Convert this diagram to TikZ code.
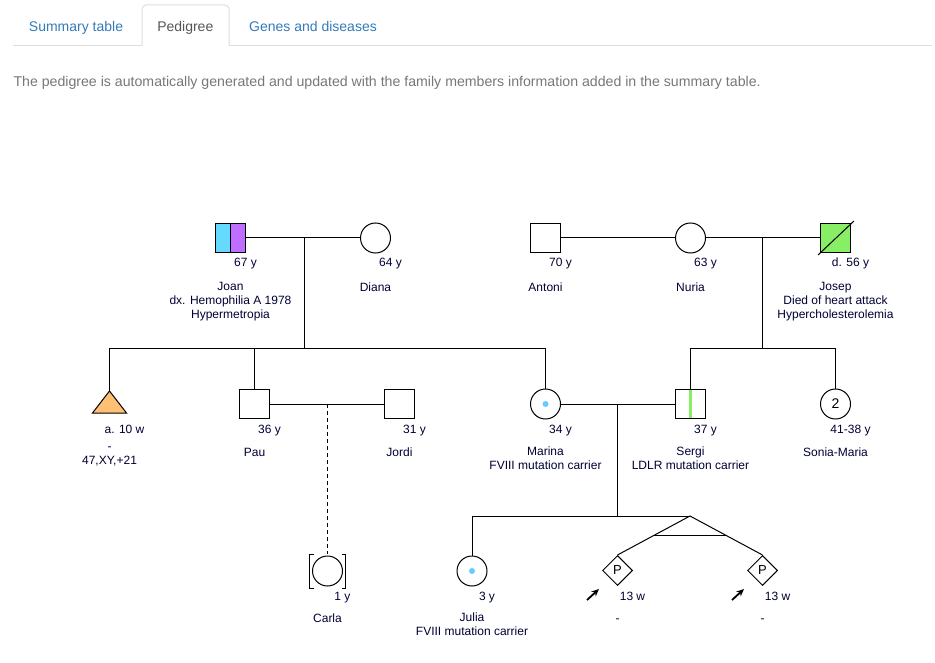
\documentclass[tikz,border=0pt]{standalone}
\usepackage{fontspec}
\setmainfont{Liberation Sans}
\usetikzlibrary{arrows.meta}
\usetikzlibrary{shapes.geometric}
\usetikzlibrary{calc}

\definecolor{tabblue}{HTML}{337AB7}
\definecolor{tabgray}{HTML}{555555}
\definecolor{tabborder}{HTML}{DDDDDD}
\definecolor{introgray}{HTML}{777777}
\definecolor{pedtext}{HTML}{000033}
\definecolor{hemocyan}{HTML}{66D9FF}
\definecolor{hyperpurple}{HTML}{BF6FFF}
\definecolor{cholgreen}{HTML}{88EE66}
\definecolor{trisomyorange}{HTML}{FFC076}
\definecolor{carrierblue}{HTML}{66CCFF}

\tikzset{
  male/.style={draw, rectangle, minimum width=30pt, minimum height=29pt, inner sep=0pt},
  female/.style={draw, circle, minimum size=30pt, inner sep=0pt},
  unknownsex/.style={draw, diamond, aspect=1, minimum size=30pt, inner sep=0pt, font=\fontsize{13}{14}\selectfont},
  agelabel/.style={anchor=base, inner sep=0pt, text=pedtext, font=\fontsize{12}{14}\selectfont},
  infolabel/.style={anchor=north, inner sep=0pt, align=center, text=pedtext, font=\fontsize{12}{14}\selectfont, execute at begin node=\strut},
  tablabel/.style={anchor=base, inner sep=0pt, font=\fontsize{14}{20}\selectfont},
  proband/.style={-{Stealth[length=7.5pt,width=6.5pt]}, line width=1.8pt},
}

\begin{document}
\begin{tikzpicture}[x=1pt, y=-1pt, line width=1pt]
	\useasboundingbox (0,0) rectangle (935,663);
	
	% tabs
	\draw[tabborder] (13,46) -- (142,46);
	\draw[tabborder] (229,46) -- (932,46);
	\draw[tabborder, rounded corners=4pt] (142,46) -- (142,5) -- (229,5) -- (229,46);
	\node[tablabel, text=tabblue] (tabsummary) at (76,31.5) {Summary table};
	\node[tablabel, text=tabgray] (tabpedigree) at (185.3,31.5) {Pedigree};
	\node[tablabel, text=tabblue] (tabgenes) at (313,31.5) {Genes and diseases};
	\node[anchor=base west, inner sep=0pt, text=introgray, font=\fontsize{14.15}{20}\selectfont] (intro) at (13,86.5) {The pedigree is automatically generated and updated with the family members information added in the summary table.};
	
	% first generation
	\node[male, path picture={
		\fill[hemocyan] (path picture bounding box.south west) rectangle (path picture bounding box.north);
		\fill[hyperpurple] (path picture bounding box.south) rectangle (path picture bounding box.north east);
		\draw (path picture bounding box.south) -- (path picture bounding box.north);
	}] (joan) at (230.5,238) {};
	\node[female] (diana) at (375.5,238) {};
	\node[male] (antoni) at (545.5,238) {};
	\node[female] (nuria) at (690.5,238) {};
	\node[male, fill=cholgreen] (josep) at (835.5,238) {};
	\draw ($(josep.south west)+(-2,2)$) -- ($(josep.north east)+(3,-2)$);
	
	\coordinate (jdmid) at (304,238);
	\coordinate (jdsib) at (304,348);
	\coordinate (njmid) at (762.5,238);
	\coordinate (njsib) at (762.5,348);
	
	\draw (joan) -- (diana);
	\draw (antoni) -- (nuria);
	\draw (nuria) -- (josep);
	\draw (jdmid) -- (jdsib);
	\draw (njmid) -- (njsib);
	
	% second generation
	\coordinate (fetus) at (109.5,391);
	\filldraw[fill=trisomyorange] (fetus) -- ++(-17,22) -- ++(34,0) -- cycle;
	\node[male] (pau) at (254.5,404) {};
	\node[male] (jordi) at (399.5,404) {};
	\node[female] (marina) at (545.5,404) {};
	\fill[carrierblue] (marina) circle (3pt);
	\node[male, path picture={
		\fill[cholgreen] ([xshift=-1.5pt]path picture bounding box.south) rectangle ([xshift=1.5pt]path picture bounding box.north);
	}] (sergi) at (690.5,404) {};
	\node[female, font=\fontsize{14}{16}\selectfont] (sonia) at (835.5,404) {2};
	
	\draw (fetus) -- (fetus |- jdsib) -- (marina |- jdsib) -- (marina.north);
	\draw (pau.north) -- (pau |- jdsib);
	\draw (sergi.north) -- (sergi |- njsib) -- (sonia |- njsib) -- (sonia.north);
	
	\coordinate (pjmid) at (327.5,404);
	\coordinate (msmid) at (617.5,404);
	\coordinate (mssib) at (617.5,516);
	\draw (pau) -- (jordi);
	\draw (marina) -- (sergi);
	\draw (msmid) -- (mssib);
	
	% third generation
	\node[female] (carla) at (327.5,571) {};
	\draw ($(carla)+(-14,-17)$) -- ++(-4,0) -- ++(0,34) -- ++(4,0);
	\draw ($(carla)+(14,-17)$) -- ++(4,0) -- ++(0,34) -- ++(-4,0);
	\node[female] (julia) at (472,571) {};
	\fill[carrierblue] (julia) circle (3pt);
	\node[unknownsex] (pleft) at (617.5,570.5) {P};
	\node[unknownsex] (pright) at (762.5,570.5) {P};
	
	\draw[dash pattern=on 4pt off 3pt] (pjmid) -- ($(carla.north)+(0,-2)$);
	\coordinate (twins) at (690,516);
	\draw (julia.north) -- (julia |- mssib) -- (twins);
	\draw (pleft.north) -- (twins) -- (pright.north);
	\draw ($(twins)!0.51!(pleft.north)$) -- ($(twins)!0.51!(pright.north)$);
	
	\coordinate (pltail) at (587,600);
	\coordinate (plhead) at (599,589);
	\coordinate (prtail) at (732,600);
	\coordinate (prhead) at (744,589);
	\draw[proband] (pltail) -- (plhead);
	\draw[proband] (prtail) -- (prhead);
	
	% ages
	\node[agelabel] (joanage) at (245.5,267) {67 y};
	\node[agelabel] (dianaage) at (390.5,267) {64 y};
	\node[agelabel] (antoniage) at (560.5,267) {70 y};
	\node[agelabel] (nuriaage) at (705.5,267) {63 y};
	\node[agelabel] (josepage) at (850.5,267) {d. 56 y};
	\node[agelabel] (fetusage) at (124.5,433.5) {a. 10 w};
	\node[agelabel] (pauage) at (269.5,433.5) {36 y};
	\node[agelabel] (jordiage) at (414.5,433.5) {31 y};
	\node[agelabel] (marinaage) at (560.5,433.5) {34 y};
	\node[agelabel] (sergiage) at (705.5,433.5) {37 y};
	\node[agelabel] (soniaage) at (850.5,433.5) {41-38 y};
	\node[agelabel] (carlaage) at (342.5,600) {1 y};
	\node[agelabel] (juliaage) at (487,600) {3 y};
	\node[agelabel] (pleftage) at (632.5,600) {13 w};
	\node[agelabel] (prightage) at (777.5,600) {13 w};
	
	% names and notes
	\node[infolabel] (joaninfo) at (230.5,281.5) {Joan\\dx. Hemophilia A 1978\\Hypermetropia};
	\node[infolabel] (dianainfo) at (375.5,281.5) {Diana};
	\node[infolabel] (antoniinfo) at (545.5,281.5) {Antoni};
	\node[infolabel] (nuriainfo) at (690.5,281.5) {Nuria};
	\node[infolabel] (josepinfo) at (835.5,281.5) {Josep\\Died of heart attack\\Hypercholesterolemia};
	\node[infolabel] (fetusinfo) at (109.5,446.5) {-\\47,XY,+21};
	\node[infolabel] (pauinfo) at (254.5,446.5) {Pau};
	\node[infolabel] (jordiinfo) at (399.5,446.5) {Jordi};
	\node[infolabel] (marinainfo) at (545.5,446.5) {Marina\\FVIII mutation carrier};
	\node[infolabel] (sergiinfo) at (690.5,446.5) {Sergi\\LDLR mutation carrier};
	\node[infolabel] (soniainfo) at (835.5,446.5) {Sonia-Maria};
	\node[infolabel] (carlainfo) at (327.5,612.5) {Carla};
	\node[infolabel] (juliainfo) at (472,612.5) {Julia\\FVIII mutation carrier};
	\node[infolabel] (pleftinfo) at (617.5,612.5) {-};
	\node[infolabel] (prightinfo) at (762.5,612.5) {-};
	
\end{tikzpicture}
\end{document}
